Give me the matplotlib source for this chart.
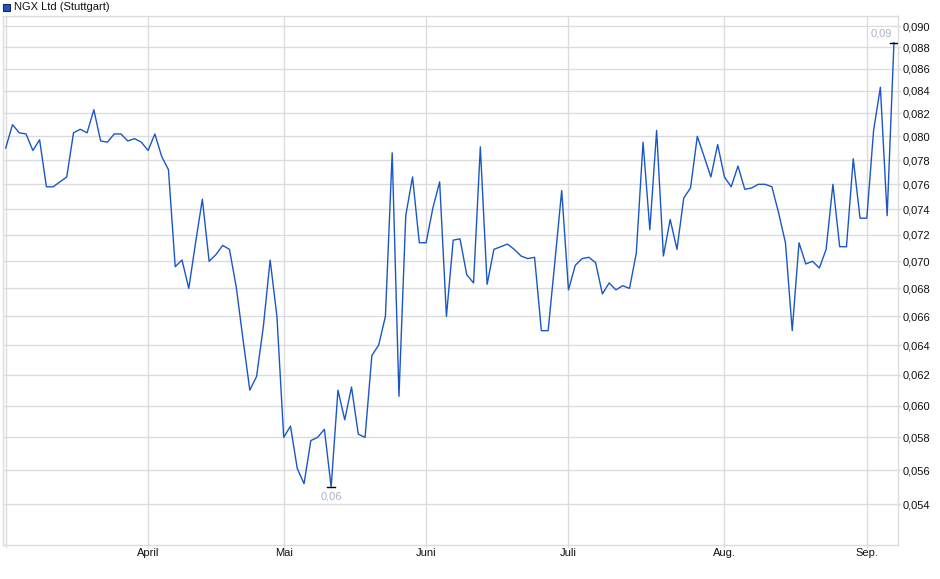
import numpy as np
import pandas as pd
import matplotlib
matplotlib.use('Agg')
import matplotlib.pyplot as plt
from matplotlib.patches import Rectangle
from matplotlib.ticker import FixedLocator, NullLocator

plt.rcParams['font.family'] = ['Liberation Sans', 'DejaVu Sans']

# daily closing prices, NGX Ltd (Stuttgart), Mar 3 - Sep 5 2025
prices = [
    0.0790, 0.0810, 0.0803, 0.0802, 0.0788, 0.0797, 0.0758, 0.0758, 0.0762, 0.0766,
    0.0803, 0.0806, 0.0803, 0.0823, 0.0796, 0.0795, 0.0802, 0.0802, 0.0796, 0.0798,
    0.0795, 0.0788, 0.0802, 0.0783, 0.0772, 0.0696, 0.0701, 0.0680, 0.0714, 0.0748,
    0.0700, 0.0705, 0.0712, 0.0709, 0.0681, 0.0644, 0.0610, 0.0619, 0.0653, 0.0701,
    0.0660, 0.0580, 0.0587, 0.0561, 0.0552, 0.0578, 0.0580, 0.0585, 0.0550, 0.0610,
    0.0591, 0.0612, 0.0582, 0.0580, 0.0633, 0.0640, 0.0660, 0.0786, 0.0606, 0.0735,
    0.0766, 0.0714, 0.0714, 0.0741, 0.0762, 0.0660, 0.0716, 0.0717, 0.0690, 0.0684,
    0.0791, 0.0683, 0.0709, 0.0711, 0.0713, 0.0709, 0.0704, 0.0702, 0.0703, 0.0650,
    0.0650, 0.0700, 0.0755, 0.0679, 0.0697, 0.0702, 0.0703, 0.0699, 0.0676, 0.0684,
    0.0679, 0.0682, 0.0680, 0.0706, 0.0795, 0.0724, 0.0805, 0.0704, 0.0732, 0.0709,
    0.0749, 0.0757, 0.0800, 0.0783, 0.0766, 0.0793, 0.0766, 0.0758, 0.0775, 0.0756,
    0.0757, 0.0760, 0.0760, 0.0758, 0.0737, 0.0714, 0.0650, 0.0714, 0.0698, 0.0700,
    0.0695, 0.0709, 0.0760, 0.0711, 0.0711, 0.0781, 0.0733, 0.0733, 0.0805, 0.0843,
    0.0735, 0.0884,
]
holidays = ['2025-04-18', '2025-04-21', '2025-05-01']
month_names = {3: '', 4: 'April', 5: 'Mai', 6: 'Juni', 7: 'Juli', 8: 'Aug.', 9: 'Sep.'}
y_ticks = [0.054, 0.056, 0.058, 0.060, 0.062, 0.064, 0.066, 0.068, 0.070, 0.072,
           0.074, 0.076, 0.078, 0.080, 0.082, 0.084, 0.086, 0.088, 0.090]

dates = pd.bdate_range('2025-03-03', periods=len(prices), freq='C', holidays=holidays)
x = np.arange(len(prices))
y = np.array(prices)

# first trading day of every month
month_pos = [i for i in range(len(dates)) if i == 0 or dates[i].month != dates[i - 1].month]
month_lab = [month_names[dates[i].month] for i in month_pos]

grid_c = '#dcdcdc'
line_c = '#1a57c6'
note_c = '#a6b3c8'

fig = plt.figure(figsize=(9.4, 5.79), dpi=100)
ax = fig.add_axes([3 / 940, 34 / 579, 895 / 940, 529 / 579])

ax.plot(x, y, color=line_c, lw=1.0, zorder=3)

ax.set_yscale('log')
ax.set_ylim(0.0517, 0.09097)
ax.set_xlim(-0.4, 131.6)

ax.yaxis.set_major_locator(FixedLocator(y_ticks))
ax.yaxis.set_minor_locator(NullLocator())
ax.set_yticklabels([f'{t:.3f}'.replace('.', ',') for t in y_ticks])
ax.yaxis.tick_right()
ax.set_xticks(month_pos)
ax.set_xticklabels(month_lab)
ax.xaxis.set_minor_locator(NullLocator())

ax.grid(True, color=grid_c, lw=1.0)
ax.set_axisbelow(True)
for s in ax.spines.values():
    s.set_color(grid_c)
    s.set_linewidth(1.0)
ax.tick_params(axis='both', colors=grid_c, labelcolor='#111111', labelsize=8, width=1)
ax.tick_params(axis='x', length=2, pad=0.5)
ax.tick_params(axis='y', length=2, pad=1)

# low / high markers
lo = int(np.argmin(y))
hi = int(np.argmax(y))
for idx in (lo, hi):
    ax.plot([idx - 0.6, idx + 0.6], [y[idx], y[idx]], color='black', lw=1.0, zorder=4)
ax.annotate(f'{y[lo]:.2f}'.replace('.', ','), (lo, y[lo]), xytext=(0, -4),
            textcoords='offset pixels', ha='center', va='top', fontsize=8, color=note_c)
ax.annotate(f'{y[hi]:.2f}'.replace('.', ','), (hi, y[hi]), xytext=(-13, 4),
            textcoords='offset pixels', ha='center', va='bottom', fontsize=8, color=note_c,
            bbox=dict(boxstyle='square,pad=0.15', fc='white', ec='none'), zorder=5)

# legend square + title
fig.add_artist(Rectangle((3 / 940, 1 - 11 / 579), 7 / 940, 7 / 579, transform=fig.transFigure,
                         fc=line_c, ec='#1a2a4a', lw=0.8))
fig.text(14 / 940, 1 - 7 / 579, 'NGX Ltd (Stuttgart)', fontsize=8, va='center', ha='left', color='#111111')

fig.savefig('out.png', dpi=100)
